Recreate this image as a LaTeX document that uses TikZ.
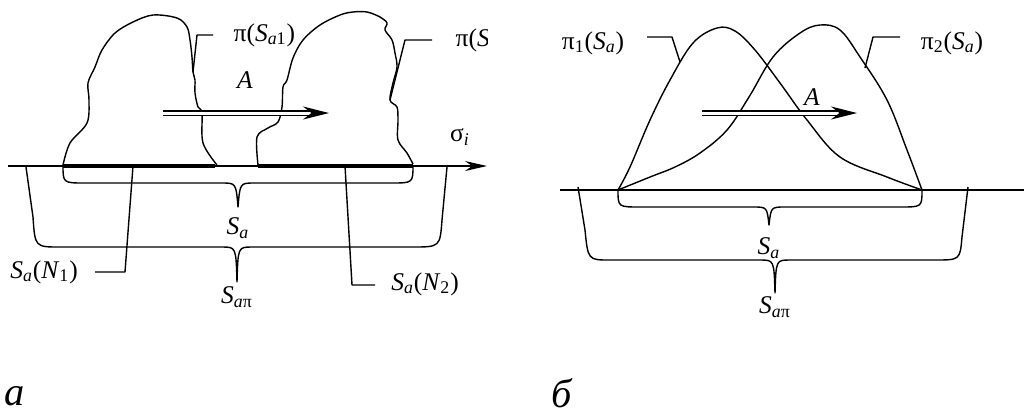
\documentclass[tikz,border=0pt]{standalone}
\usepackage{fontspec}
\setmainfont{Liberation Serif}
\usetikzlibrary{arrows.meta}
\tikzset{
  lab/.style={font=\fontsize{14.5}{16}\selectfont, inner sep=0pt},
  podpis/.style={font=\fontsize{23}{25}\selectfont\itshape, inner sep=0pt},
  tolst/.style={line width=2.4pt},
  dvoin/.style={double, double distance=1.7pt, line width=0.75pt,
    -{Stealth[length=5.2mm,width=2.6mm]}},
}
\newcommand{\Sind}[1]{\textit{S}\textsubscript{#1}}
\begin{document}
\begin{tikzpicture}[x=0.02cm,y=-0.02cm,line width=0.8pt,line join=round]
  \useasboundingbox (0,0) rectangle (1024,414);
  % ---- a ----
  % ось
  \coordinate (osL) at (8,166);
  \coordinate (osR) at (487,166);
  \draw[-{Stealth[length=4.4mm,width=2mm]}] (osL) -- (osR);
  \node[lab] (sig) at (460,137) {σ\textsubscript{\textit{i}}};
  % области
  \draw plot[smooth,tension=0.55] coordinates {(63,165) (70,143) (87,123) (89,100)
    (88,83) (95,67) (102,50) (115,33) (133,22) (153,15) (177,18) (187,27) (190,40)
    (192,57) (193,72) (195,80) (195,93) (198,107) (202,113) (203,143) (217,165)};
  \draw plot[smooth,tension=0.55] coordinates {(258,165) (257,137) (268,128) (278,122)
    (282,107) (283,87) (287,80) (293,58) (303,40) (320,25) (340,15) (353,12) (367,12)
    (380,17) (387,23) (385,30) (392,40) (395,53) (397,67) (393,83) (390,100) (397,107)
    (398,120) (398,140) (407,153) (413,164)};
  \draw[tolst] (63,166) -- (215,166);
  \draw[tolst] (258,166) -- (413,166);
  % стрелка A
  \coordinate (a1) at (163,113);
  \coordinate (a2) at (329,113);
  \draw[dvoin] (a1) -- (a2);
  \node[lab] (A1) at (245,80) {\textit{A}};
  % скобки
  \draw (63,165) .. controls (63,183) .. (85,183) -- (222,183)
    .. controls (236,183) .. (238,207) .. controls (240,183) .. (254,183)
    -- (391,183) .. controls (413,183) .. (413,165);
  \node[lab] (Sa1) at (238,228) {\Sind{\textit{a}}};
  \draw (26,167) -- (33,217) .. controls (35,247) .. (60,247) -- (222,247)
    .. controls (236,247) .. (237,282) .. controls (238,247) .. (252,247)
    -- (412,247) .. controls (440,247) .. (442,220) -- (447,167);
  \node[lab] (Sap1) at (237,297) {\Sind{\textit{a}π}};
  % выноски
  \node[lab,anchor=west] (pi1) at (233,35) {π(\Sind{\textit{a}1})};
  \coordinate (p1a) at (193,72);
  \coordinate (p1b) at (197,35);
  \coordinate (p1c) at (213,35);
  \draw (p1a) -- (p1b) -- (p1c);
  \begin{scope}
    \clip (440,15) rectangle (487,65);
    \node[lab,anchor=west] (pi2) at (455,40) {π(\Sind{\textit{a}2})};
  \end{scope}
  \coordinate (p2a) at (390,100);
  \coordinate (p2b) at (405,40);
  \coordinate (p2c) at (432,40);
  \draw (p2a) -- (p2b) -- (p2c);
  \node[lab] (N1) at (44,272) {\Sind{\textit{a}}(\textit{N}\textsubscript{1})};
  \coordinate (n1a) at (133,166);
  \coordinate (n1b) at (125,272);
  \coordinate (n1c) at (95,272);
  \draw (n1a) -- (n1b) -- (n1c);
  \node[lab] (N2) at (425,284) {\Sind{\textit{a}}(\textit{N}\textsubscript{2})};
  \coordinate (n2a) at (345,166);
  \coordinate (n2b) at (352,285);
  \coordinate (n2c) at (375,285);
  \draw (n2a) -- (n2b) -- (n2c);
  % ---- б ----
  \coordinate (os2L) at (560,190);
  \coordinate (os2R) at (1024,190);
  \draw (os2L) -- (os2R);
  % кривые
  \draw plot[smooth,tension=0.6] coordinates {(618,190) (630,167) (650,120) (670,80)
    (693,43) (717,28) (735,31) (755,50) (780,83) (807,120) (840,157) (887,177) (922,190)};
  \draw plot[smooth,tension=0.6] coordinates {(618,190) (650,177) (675,167) (700,153)
    (727,130) (749,97) (773,57) (800,33) (820,25) (840,30) (860,57) (887,100)
    (907,150) (922,190)};
  % стрелка A
  \coordinate (b1) at (702,113);
  \coordinate (b2) at (857,113);
  \draw[dvoin] (b1) -- (b2);
  \node[lab] (A2) at (812,97) {\textit{A}};
  % скобки
  \draw (618,190) .. controls (618,207) .. (640,207) -- (753,207)
    .. controls (767,207) .. (769,225) .. controls (771,207) .. (785,207)
    -- (900,207) .. controls (922,207) .. (922,190);
  \node[lab] (Sa2) at (769,248) {\Sind{\textit{a}}};
  \draw (578,187) -- (585,230) .. controls (588,260) .. (610,260) -- (760,260)
    .. controls (774,260) .. (775,293) .. controls (776,260) .. (790,260)
    -- (935,260) .. controls (960,260) .. (962,237) -- (968,187);
  \node[lab] (Sap2) at (775,307) {\Sind{\textit{a}π}};
  % выноски
  \node[lab] (q1) at (593,43) {π\textsubscript{1}(\Sind{\textit{a}})};
  \coordinate (q1a) at (680,62);
  \coordinate (q1b) at (672,37);
  \coordinate (q1c) at (647,37);
  \draw (q1a) -- (q1b) -- (q1c);
  \node[lab] (q2) at (952,43) {π\textsubscript{2}(\Sind{\textit{a}})};
  \coordinate (q2a) at (865,68);
  \coordinate (q2b) at (873,37);
  \coordinate (q2c) at (900,37);
  \draw (q2a) -- (q2b) -- (q2c);
  % подписи
  \node[podpis] (ca) at (15,396) {а};
  \node[podpis] (cb) at (562,393) {б};
\end{tikzpicture}
\end{document}
